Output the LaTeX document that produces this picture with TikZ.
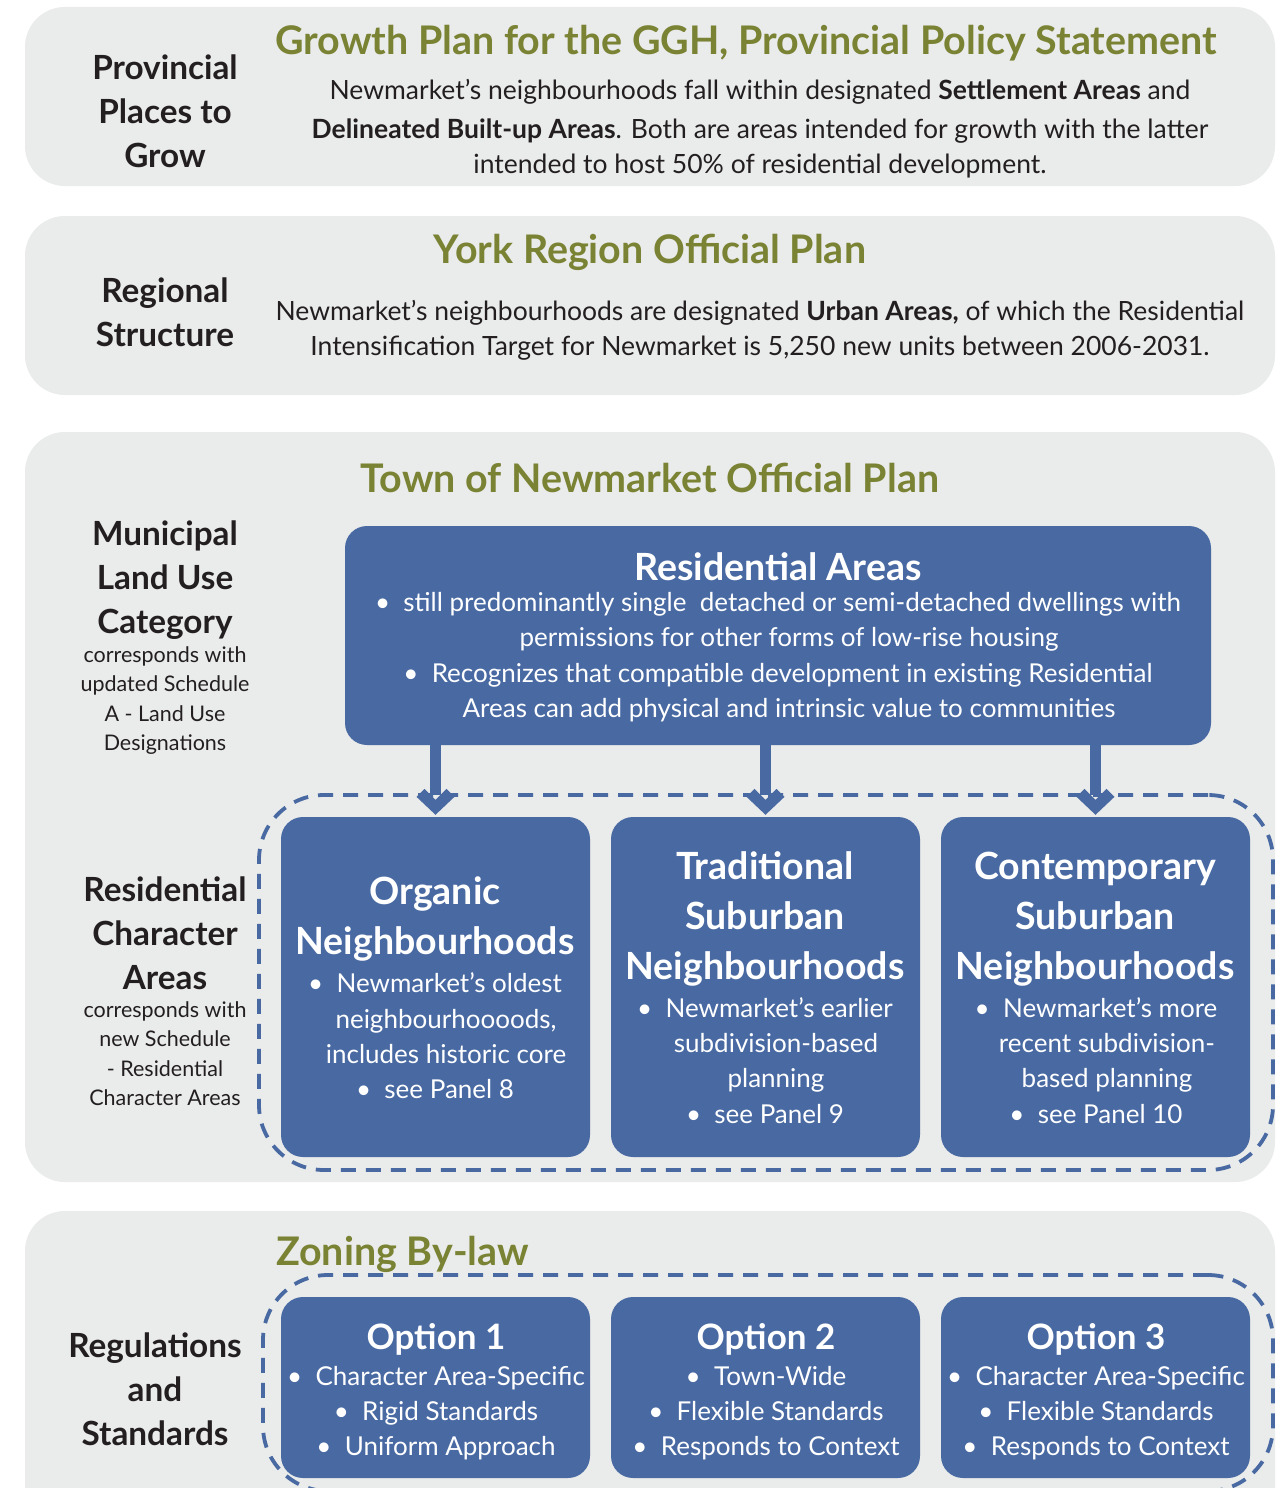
\documentclass[tikz,border=0pt]{standalone}
\usepackage{fontspec}
\setmainfont{Lato}
\usetikzlibrary{arrows.meta,calc}

\definecolor{panelgrey}{HTML}{EAEBEB}
\definecolor{boxblue}{HTML}{4869A2}
\definecolor{olive}{HTML}{7A8233}
\definecolor{ink}{HTML}{231F20}

% thick chevron head used on the downward flow arrows
\pgfdeclarearrow{
  name=Chevron,
  setup code={
    \pgfarrowssettipend{0pt}
    \pgfarrowssetlineend{-20pt}
    \pgfarrowssetvisualbackend{-26pt}
    \pgfarrowssetbackend{-26pt}
    \pgfarrowshullpoint{0pt}{0pt}
    \pgfarrowsupperhullpoint{-26pt}{19pt}
  },
  drawing code={
    \pgfpathmoveto{\pgfqpoint{0pt}{0pt}}
    \pgfpathlineto{\pgfqpoint{-18pt}{19pt}}
    \pgfpathlineto{\pgfqpoint{-26pt}{11pt}}
    \pgfpathlineto{\pgfqpoint{-15pt}{0pt}}
    \pgfpathlineto{\pgfqpoint{-26pt}{-11pt}}
    \pgfpathlineto{\pgfqpoint{-18pt}{-19pt}}
    \pgfpathclose
    \pgfusepathqfill
  }
}

\newcommand{\bul}{\textbullet\ \ }
\newcommand{\ind}{\hspace*{22pt}}

\begin{document}
\begin{tikzpicture}[x=1pt,y=-1pt,
  panel/.style={fill=panelgrey, rounded corners=40pt, inner sep=0pt, draw=none},
  bluebox/.style={fill=boxblue, rounded corners=22pt, inner sep=0pt, draw=none},
  frame/.style={draw=boxblue, line width=3.8pt, dash pattern=on 15pt off 10pt,
                rounded corners=65pt, inner sep=0pt},
  flow/.style={draw=boxblue, line width=11pt, -{Chevron}, shorten >=2pt},
  lbl/.style={font=\bfseries\fontsize{33.3}{44}\selectfont, text=ink, align=center, inner sep=0pt},
  sml/.style={font=\fontsize{21.5}{29.5}\selectfont, text=ink, align=center, inner sep=0pt},
  ttl/.style={font=\bfseries\fontsize{39.4}{44}\selectfont, text=olive, inner sep=0pt},
  body/.style={font=\fontsize{26.5}{35}\selectfont, text=ink, align=center, inner sep=0pt},
  btitle/.style={font=\bfseries\fontsize{37.5}{50}\selectfont, text=white, align=center, inner sep=0pt},
  otitle/.style={btitle, font=\bfseries\fontsize{35}{50}\selectfont},
  btext/.style={font=\fontsize{26}{35.3}\selectfont, text=white, align=center, inner sep=0pt},
]
\clip (0,0) rectangle (1283,1488);
\fill[white] (0,0) rectangle (1283,1488);

% ---------- grey bands ----------
\node[panel, minimum width=1250, minimum height=179] (p1) at (650,96.5) {};
\node[panel, minimum width=1250, minimum height=179] (p2) at (650,305.5) {};
\node[panel, minimum width=1250, minimum height=750] (p3) at (650,807) {};
\node[panel, minimum width=1250, minimum height=340] (p4) at (650,1381) {};

% ---------- band 1: provincial ----------
\node[lbl] (l1) at (165,111) {Provincial\\Places to\\Grow};
\node[ttl] (t1) at (746,43) {Growth Plan for the GGH, Provincial Policy Statement};
\node[body] (b1) at (760,129) {Newmarket’s neighbourhoods fall within designated \textbf{Settlement Areas} and\\[4pt]
  \textbf{Delineated Built-up Areas}. Both are areas intended for growth with the latter\\
  intended to host 50\% of residential development.};

% ---------- band 2: regional ----------
\node[lbl] (l2) at (165,312) {Regional\\Structure};
\node[ttl] (t2) at (650,252) {York Region Official Plan};
\node[body] (b2) at (760,330) {Newmarket’s neighbourhoods are designated \textbf{Urban Areas,} of which the Residential\\
  Intensification Target for Newmarket is 5,250 new units between 2006-2031.};

% ---------- band 3: municipal ----------
\node[ttl] (t3) at (650,478) {Town of Newmarket Official Plan};
\node[lbl] (l3) at (165,580) {Municipal\\Land Use\\Category};
\node[sml] (s3) at (165,700.5) {corresponds with\\updated Schedule\\A - Land Use\\Designations};
\node[lbl] (l4) at (165,933) {Residential\\Character\\Areas};
\node[sml] (s4) at (165,1053.5) {corresponds with\\new Schedule\\- Residential\\Character Areas};

\node[frame, minimum width=1014, minimum height=375] (fr3) at (766,982.5) {};

\node[bluebox, minimum width=866, minimum height=219] (res) at (778,635.5) {};
\node[btitle] (rest) at (778,567) {Residential Areas};
\node[btext] (resb) at (778,657) {\bul still predominantly single\ \ detached or semi-detached dwellings with\\
  \ind permissions for other forms of low-rise housing\\
  \bul Recognizes that compatible development in existing Residential\\
  \ind Areas can add physical and intrinsic value to communities};

\node[bluebox, minimum width=309, minimum height=340] (org) at (435.5,987) {};
\node[bluebox, minimum width=309, minimum height=340] (trad) at (765.5,987) {};
\node[bluebox, minimum width=309, minimum height=340] (cont) at (1095.5,987) {};

\node[btitle] (orgt) at (435,919) {Organic\\Neighbourhoods};
\node[btext] (orgb) at (435,1036) {\bul Newmarket’s oldest\\\ind neighbourhoooods,\\\ind includes historic core\\\bul see Panel 8};
\node[btitle] (tradt) at (765,919) {Traditional\\Suburban\\Neighbourhoods};
\node[btext] (tradb) at (765,1060.5) {\bul Newmarket’s earlier\\\ind subdivision-based\\\ind planning\\\bul see Panel 9};
\node[btitle] (contt) at (1095,919) {Contemporary\\Suburban\\Neighbourhoods};
\node[btext] (contb) at (1096,1060.5) {\bul Newmarket’s more\\\ind recent subdivision-\\\ind based planning\\\bul see Panel 10};

\draw[flow] (res.south -| org.north) -- (org.north);
\draw[flow] (res.south -| trad.north) -- (trad.north);
\draw[flow] (res.south -| cont.north) -- (cont.north);

% ---------- band 4: zoning ----------
\node[ttl] (t4) at (402.5,1254) {Zoning By-law};
\node[lbl] (l5) at (155,1389) {Regulations\\and\\Standards};
\node[frame, minimum width=1010, minimum height=216] (fr4) at (768,1383) {};

\node[bluebox, minimum width=309, minimum height=181] (o1) at (435.5,1387.5) {};
\node[bluebox, minimum width=309, minimum height=181] (o2) at (765.5,1387.5) {};
\node[bluebox, minimum width=309, minimum height=181] (o3) at (1095.5,1387.5) {};

\node[otitle] (o1t) at (436,1339) {Option 1};
\node[btext] (o1b) at (436,1413) {\bul Character Area-Specific\\\bul Rigid Standards\\\bul Uniform Approach};
\node[otitle] (o2t) at (766,1339) {Option 2};
\node[btext] (o2b) at (766,1413) {\bul Town-Wide\\\bul Flexible Standards\\\bul Responds to Context};
\node[otitle] (o3t) at (1096,1339) {Option 3};
\node[btext] (o3b) at (1096,1413) {\bul Character Area-Specific\\\bul Flexible Standards\\\bul Responds to Context};
\end{tikzpicture}
\end{document}
